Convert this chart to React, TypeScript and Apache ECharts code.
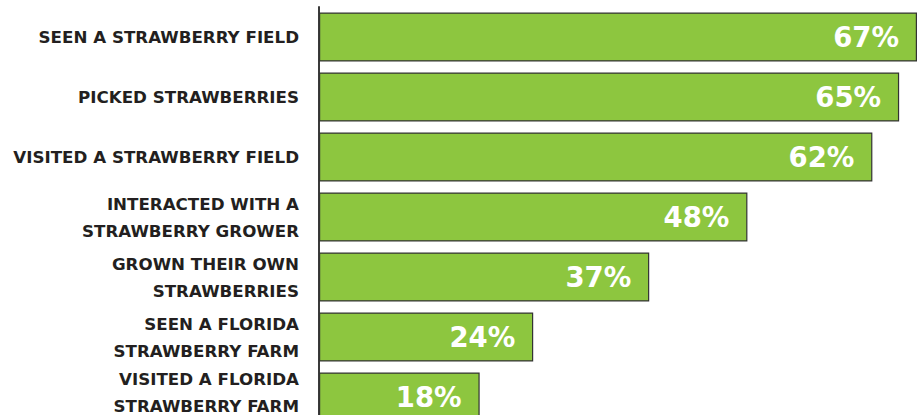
import React, { useEffect, useRef } from "react";
import * as echarts from "echarts";

const categories: string[] = [
  "SEEN A STRAWBERRY FIELD",
  "PICKED STRAWBERRIES",
  "VISITED A STRAWBERRY FIELD",
  "INTERACTED WITH A\nSTRAWBERRY GROWER",
  "GROWN THEIR OWN\nSTRAWBERRIES",
  "SEEN A FLORIDA\nSTRAWBERRY FARM",
  "VISITED A FLORIDA\nSTRAWBERRY FARM",
];
const values: number[] = [67, 65, 62, 48, 37, 24, 18];

export default function App() {
  const ref = useRef<HTMLDivElement>(null);
  useEffect(() => {
    if (!ref.current) return;
    const chart = echarts.init(ref.current, null, { renderer: "svg" });
    chart.setOption({
      animation: false,
      grid: { left: 319, right: 5, top: 7, height: 420, containLabel: false },
      xAxis: {
        type: "value",
        min: 0,
        max: 67,
        show: false,
        splitLine: { show: false },
      },
      yAxis: {
        type: "category",
        inverse: true,
        data: categories,
        axisLine: { show: true, lineStyle: { color: "#3a3a3a", width: 2 } },
        axisTick: { show: false },
        axisLabel: {
          margin: 20,
          fontFamily: "DejaVu Sans",
          fontWeight: "bold",
          fontSize: 16.7,
          lineHeight: 27,
          color: "#231f20",
          align: "right",
          formatter: (value: string, index: number) =>
            index === categories.length - 1 ? value + "\n{gap| }" : value,
          rich: {
            gap: { fontSize: 8, lineHeight: 10, height: 10 },
          },
        },
      },
      series: [
        {
          type: "bar",
          data: values,
          barWidth: 49,
          itemStyle: {
            color: "#8dc63f",
            borderColor: "#333333",
            borderWidth: 1.2,
          },
          label: {
            show: true,
            position: "insideRight",
            distance: 18,
            formatter: "{c}%",
            color: "#ffffff",
            fontFamily: "DejaVu Sans",
            fontWeight: "bold",
            fontSize: 27.5,
          },
        },
      ],
    });
    return () => chart.dispose();
  }, []);
  return (
    <div
      style={{
        position: "fixed",
        left: 0,
        top: 0,
        width: 922,
        height: 415,
        overflow: "hidden",
        background: "#ffffff",
      }}
    >
      <div ref={ref} style={{ width: 922, height: 432 }} />
    </div>
  );
}
